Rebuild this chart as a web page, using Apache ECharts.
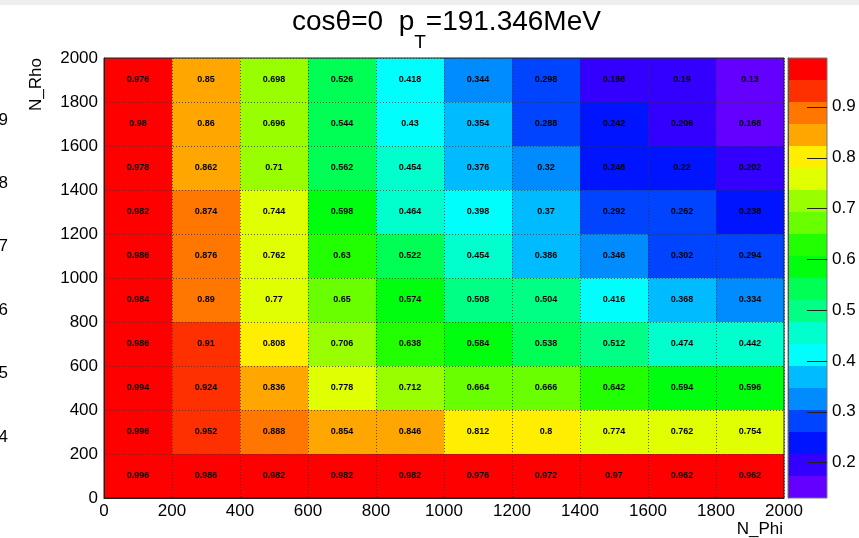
<!DOCTYPE html>
<html><head><meta charset="utf-8">
<script src="https://cdn.jsdelivr.net/npm/echarts@6/dist/echarts.min.js"></script>
<style>html,body{margin:0;padding:0;background:#fff}#c{width:859px;height:538px}</style>
</head><body><div id="c"></div>
<script>
// ---- data ----
const phiBinCenters = [100, 300, 500, 700, 900, 1100, 1300, 1500, 1700, 1900]; // N_Phi bins
const rhoBinCenters = [1900, 1700, 1500, 1300, 1100, 900, 700, 500, 300, 100]; // N_Rho bins (top to bottom)
const binWidth = 200;
const rho1900 = [0.976, 0.85, 0.698, 0.526, 0.418, 0.344, 0.298, 0.186, 0.19, 0.13];
const rho1700 = [0.98, 0.86, 0.696, 0.544, 0.43, 0.354, 0.288, 0.242, 0.206, 0.168];
const rho1500 = [0.978, 0.862, 0.71, 0.562, 0.454, 0.376, 0.32, 0.246, 0.22, 0.202];
const rho1300 = [0.982, 0.874, 0.744, 0.598, 0.464, 0.398, 0.37, 0.292, 0.262, 0.238];
const rho1100 = [0.986, 0.876, 0.762, 0.63, 0.522, 0.454, 0.386, 0.346, 0.302, 0.294];
const rho900  = [0.984, 0.89, 0.77, 0.65, 0.574, 0.508, 0.504, 0.416, 0.368, 0.334];
const rho700  = [0.986, 0.91, 0.808, 0.706, 0.638, 0.584, 0.538, 0.512, 0.474, 0.442];
const rho500  = [0.994, 0.924, 0.836, 0.778, 0.712, 0.664, 0.666, 0.642, 0.594, 0.596];
const rho300  = [0.996, 0.952, 0.888, 0.854, 0.846, 0.812, 0.8, 0.774, 0.762, 0.754];
const rho100  = [0.996, 0.986, 0.982, 0.982, 0.982, 0.976, 0.972, 0.97, 0.962, 0.962];
const axisTicks = [0, 200, 400, 600, 800, 1000, 1200, 1400, 1600, 1800, 2000];
const colorbarTicks = [0.2, 0.3, 0.4, 0.5, 0.6, 0.7, 0.8, 0.9];
const ghostLabels = ['9', '8', '7', '6', '5', '4'];
const nContours = 20;
const palette = ['#6300ff','#3300ff','#0014ff','#0044ff','#008bff','#00bbff','#00fffc','#00ffcc','#00ff85','#00ff55',
                 '#00ff0e','#22ff00','#69ff00','#99ff00','#e0ff00','#ffee00','#ffa700','#ff7700','#ff3000','#ff0000'];

// ---- build ----
const rows = [rho1900, rho1700, rho1500, rho1300, rho1100, rho900, rho700, rho500, rho300, rho100];
const cells = [];
rows.forEach((row, r) => row.forEach((v, c) => cells.push([phiBinCenters[c], rhoBinCenters[r], v])));
const allVals = cells.map(d => d[2]);
const zMin = Math.min(...allVals), zMax = Math.max(...allVals);
const w = (zMax - zMin) / nContours;
const pieces = palette.map((col, k) => ({
  gte: k === 0 ? zMin - 1 : zMin + k * w,
  lt: k === nContours - 1 ? zMax + 1 : zMin + (k + 1) * w,
  color: col
}));
const bands = palette.map((col, k) => [k]);
const tickData = colorbarTicks.map(t => [t]);
const FONT = 'Liberation Sans';
const plain = v => String(v);

const chart = echarts.init(document.getElementById('c'), null, {renderer: 'canvas'});
chart.setOption({
  animation: false,
  backgroundColor: '#fff',
  title: {
    text: '{a|cosθ=0  p}{b|T}{a|=191.346MeV}',
    left: 292, top: 8, padding: 0,
    textStyle: {
      fontWeight: 'normal',
      rich: {
        a: {fontSize: 28, fontWeight: 'normal', fontFamily: FONT, color: '#000', padding: [0, 0, 16, 0]},
        b: {fontSize: 19, fontWeight: 'normal', fontFamily: FONT, color: '#000', padding: [25, 0, 0, 0]}
      }
    }
  },
  grid: [
    {left: 104, top: 58, width: 680, height: 440, show: true, borderColor: '#222', borderWidth: 1, z: 10},
    {left: 788, top: 58, width: 39, height: 440, show: true, borderColor: '#777', borderWidth: 1, z: 10}
  ],
  xAxis: [
    {gridIndex: 0, type: 'value', min: axisTicks[0], max: axisTicks[axisTicks.length - 1], interval: 200, z: 10,
     axisLine: {show: true, lineStyle: {color: '#222'}}, axisTick: {show: false},
     axisLabel: {fontSize: 17, fontFamily: FONT, color: '#000', margin: 5, formatter: plain},
     splitLine: {show: true, lineStyle: {color: '#333', type: [1, 2], width: 1, opacity: 0.8}}},
    {gridIndex: 1, type: 'value', min: 0, max: 1, show: false}
  ],
  yAxis: [
    {gridIndex: 0, type: 'value', min: axisTicks[0], max: axisTicks[axisTicks.length - 1], interval: 200, z: 10,
     axisLine: {show: true, lineStyle: {color: '#222'}}, axisTick: {show: false},
     axisLabel: {fontSize: 17, fontFamily: FONT, color: '#000', margin: 6, formatter: plain},
     splitLine: {show: true, lineStyle: {color: '#333', type: [1, 2], width: 1, opacity: 0.8}}},
    {gridIndex: 1, type: 'value', min: zMin, max: zMax, position: 'right', z: 10,
     axisLine: {show: true, lineStyle: {color: '#555'}},
     axisTick: {show: false},
     axisLabel: {fontSize: 17, fontFamily: FONT, color: '#000', margin: 5, customValues: colorbarTicks, formatter: plain},
     splitLine: {show: false}}
  ],
  visualMap: {type: 'piecewise', show: false, dimension: 2, seriesIndex: 0, pieces: pieces},
  series: [
    {
      type: 'custom', xAxisIndex: 0, yAxisIndex: 0, data: cells, encode: {x: 0, y: 1},
      renderItem: function (params, api) {
        const x = api.value(0), y = api.value(1), v = api.value(2);
        const p0 = api.coord([x - binWidth / 2, y + binWidth / 2]);
        const p1 = api.coord([x + binWidth / 2, y - binWidth / 2]);
        return {type: 'group', children: [
          {type: 'rect', shape: {x: p0[0], y: p0[1], width: p1[0] - p0[0], height: p1[1] - p0[1]},
           style: {fill: api.visual('color')}},
          {type: 'text', style: {text: String(v), x: (p0[0] + p1[0]) / 2, y: (p0[1] + p1[1]) / 2,
           align: 'center', verticalAlign: 'middle', fontSize: 9, fontWeight: 'bold', fontFamily: FONT, fill: '#000'}}
        ]};
      }
    },
    {
      type: 'custom', xAxisIndex: 1, yAxisIndex: 1, data: bands,
      renderItem: function (params, api) {
        const k = api.value(0);
        const lo = zMin + k * w, hi = zMin + (k + 1) * w;
        const p0 = api.coord([0, hi]);
        const p1 = api.coord([1, lo]);
        return {type: 'rect', shape: {x: p0[0], y: p0[1], width: p1[0] - p0[0], height: p1[1] - p0[1]},
                style: {fill: palette[k]}};
      }
    },
    {
      type: 'custom', xAxisIndex: 1, yAxisIndex: 1, data: tickData, z: 12,
      renderItem: function (params, api) {
        const t = api.value(0);
        const p1 = api.coord([1, t]);
        return {type: 'line', shape: {x1: p1[0] - 20, y1: Math.round(p1[1]) + 0.5, x2: p1[0], y2: Math.round(p1[1]) + 0.5},
                style: {stroke: '#222', lineWidth: 1}};
      }
    }
  ],
  graphic: [
    {type: 'rect', left: 0, top: 0, shape: {width: 859, height: 5}, style: {fill: '#eeeeee'}, silent: true, z: -1},
    {type: 'text', x: 783, y: 529, style: {text: 'N_Phi', fontSize: 17, fontFamily: FONT, fill: '#000', align: 'right', verticalAlign: 'middle'}},
    {type: 'text', x: 36, y: 58, rotation: Math.PI / 2, style: {text: 'N_Rho', fontSize: 17, fontFamily: FONT, fill: '#000', align: 'right', verticalAlign: 'middle'}}
  ].concat(ghostLabels.map((t, i) => ({
    type: 'text', x: 8, y: 120 + i * 63.4,
    style: {text: t, fontSize: 17, fontFamily: FONT, fill: '#000', align: 'right', verticalAlign: 'middle'}
  })))
});
</script>
</body></html>
